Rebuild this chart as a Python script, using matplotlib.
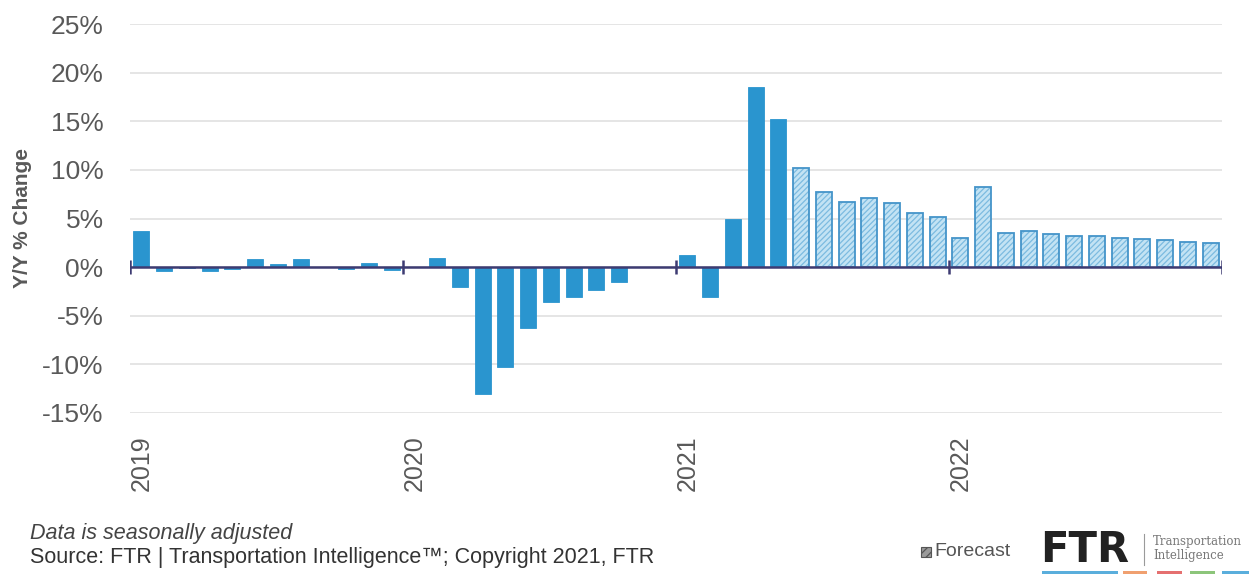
import matplotlib
matplotlib.use("Agg")
import matplotlib.pyplot as plt
from matplotlib import font_manager
from matplotlib.patches import Rectangle

# Monthly year-over-year % change, Jan 2019 - Dec 2022
values_2019 = [3.7, -0.4, -0.1, -0.4, -0.2, 0.8, 0.3, 0.85, 0.0, -0.2, 0.45, -0.3]
values_2020 = [0.0, 0.9, -2.0, -13.0, -10.3, -6.3, -3.6, -3.1, -2.4, -1.5, 0.0, 0.0]
values_2021 = [1.2, -3.1, 4.9, 18.5, 15.2, 10.2, 7.7, 6.7, 7.1, 6.6, 5.6, 5.2]
values_2022 = [3.0, 8.25, 3.5, 3.7, 3.4, 3.2, 3.2, 3.0, 2.9, 2.75, 2.6, 2.5]
values = values_2019 + values_2020 + values_2021 + values_2022

first_forecast = 29  # Jun 2021 onwards is forecast
year_labels = ["2019", "2020", "2021", "2022"]
y_ticks = [-15, -10, -5, 0, 5, 10, 15, 20, 25]


def pick_font(*names):
    for n in names:
        try:
            font_manager.findfont(font_manager.FontProperties(family=n),
                                  fallback_to_default=False)
            return n
        except Exception:
            continue
    return "DejaVu Sans"


main_font = pick_font("Liberation Sans", "Arial")
plt.rcParams["font.family"] = [main_font, "DejaVu Sans"]
plt.rcParams["hatch.linewidth"] = 0.9

GRAY = "#595959"
ACTUAL = "#2A95CF"
FC_FACE = "#C3E3F4"
FC_HATCH = "#7CBBE0"
FC_EDGE = "#4494C9"
AXIS = "#3D3B72"

W, H = 1249, 574
fig = plt.figure(figsize=(W / 100, H / 100), dpi=100)
ax = fig.add_axes([130 / W, 1 - 413 / H, 1092 / W, (413 - 24) / H])

n = len(values)
xs = list(range(n))
act_x = xs[:first_forecast]
act_v = values[:first_forecast]
fc_x = xs[first_forecast:]
fc_v = values[first_forecast:]

bw = 0.7
ax.bar(act_x, act_v, width=bw, color=ACTUAL, edgecolor=ACTUAL, linewidth=0.6, zorder=3)
ax.bar(fc_x, fc_v, width=bw, color=FC_FACE, edgecolor=FC_HATCH, linewidth=0,
       hatch="//////", zorder=3)
ax.bar(fc_x, fc_v, width=bw, fill=False, edgecolor=FC_EDGE, linewidth=1.3, zorder=4)

ax.set_xlim(-0.5, n - 0.5)
ax.set_ylim(-15, 25)

for s in ax.spines.values():
    s.set_visible(False)

ax.set_yticks(y_ticks)
ax.set_yticklabels([f"{t}%" for t in y_ticks])
ax.yaxis.grid(True, color="#E3E3E3", linewidth=1.3, zorder=0)
ax.tick_params(axis="y", length=0, pad=19, labelsize=19, labelcolor=GRAY)

ax.set_xticks([12 * i for i in range(len(year_labels))])
ax.set_xticklabels(year_labels, rotation=90, va="top", ha="center")
ax.tick_params(axis="x", length=0, pad=16, labelsize=18, labelcolor=GRAY)

# zero line with year-boundary tick marks
ax.axhline(0, color=AXIS, linewidth=1.8, zorder=5)
bounds = [12 * i - 0.5 for i in range(len(year_labels) + 1)]
ax.vlines(bounds, -0.75, 0.75, color=AXIS, linewidth=1.8, zorder=5)

ax.set_ylabel("Y/Y % Change", fontsize=15, fontweight="bold", color=GRAY, labelpad=12)
ax.yaxis.set_label_coords(-98 / 1092, 0.5)

# footer notes
fig.text(30 / W, 1 - 533 / H, "Data is seasonally adjusted", fontsize=15.5,
         style="italic", color="#444444", va="center", ha="left")
fig.text(30 / W, 1 - 557 / H, "Source: FTR | Transportation Intelligence\u2122; Copyright 2021, FTR",
         fontsize=15.5, color="#333333", va="center", ha="left")

# forecast legend key
fig.patches.append(Rectangle((921 / W, 1 - 557 / H), 10 / W, 10 / H, transform=fig.transFigure,
                             facecolor="#9A9A9A", edgecolor="#555555", hatch="////", linewidth=0.8))
fig.text(934 / W, 1 - 552 / H, "Forecast", fontsize=14, color="#555555", va="center", ha="left")

# FTR brand mark
fig.text(1040 / W, 1 - 550 / H, "FTR", fontsize=30, fontweight="heavy", color="#222222",
         va="center", ha="left", family=["DejaVu Sans"])
fig.lines.append(plt.Line2D([1144 / W, 1144 / W], [1 - 534 / H, 1 - 565 / H],
                            transform=fig.transFigure, color="#9A9A9A", linewidth=0.8))
fig.text(1153 / W, 1 - 541 / H, "Transportation", fontsize=8.5, color="#777777",
         va="center", ha="left", family=["DejaVu Serif"])
fig.text(1153 / W, 1 - 556 / H, "Intelligence", fontsize=8.5, color="#777777",
         va="center", ha="left", family=["DejaVu Serif"])
strips = [(1042, 1118, "#5AAEDC"), (1123, 1147, "#F0A070"), (1157, 1182, "#E57070"),
          (1190, 1215, "#8CC57A"), (1222, 1249, "#5AAEDC")]
for x0, x1, c in strips:
    fig.patches.append(Rectangle((x0 / W, 0), (x1 - x0) / W, 3 / H, transform=fig.transFigure,
                                 facecolor=c, edgecolor="none"))

fig.savefig("out.png", dpi=100, facecolor="white")
